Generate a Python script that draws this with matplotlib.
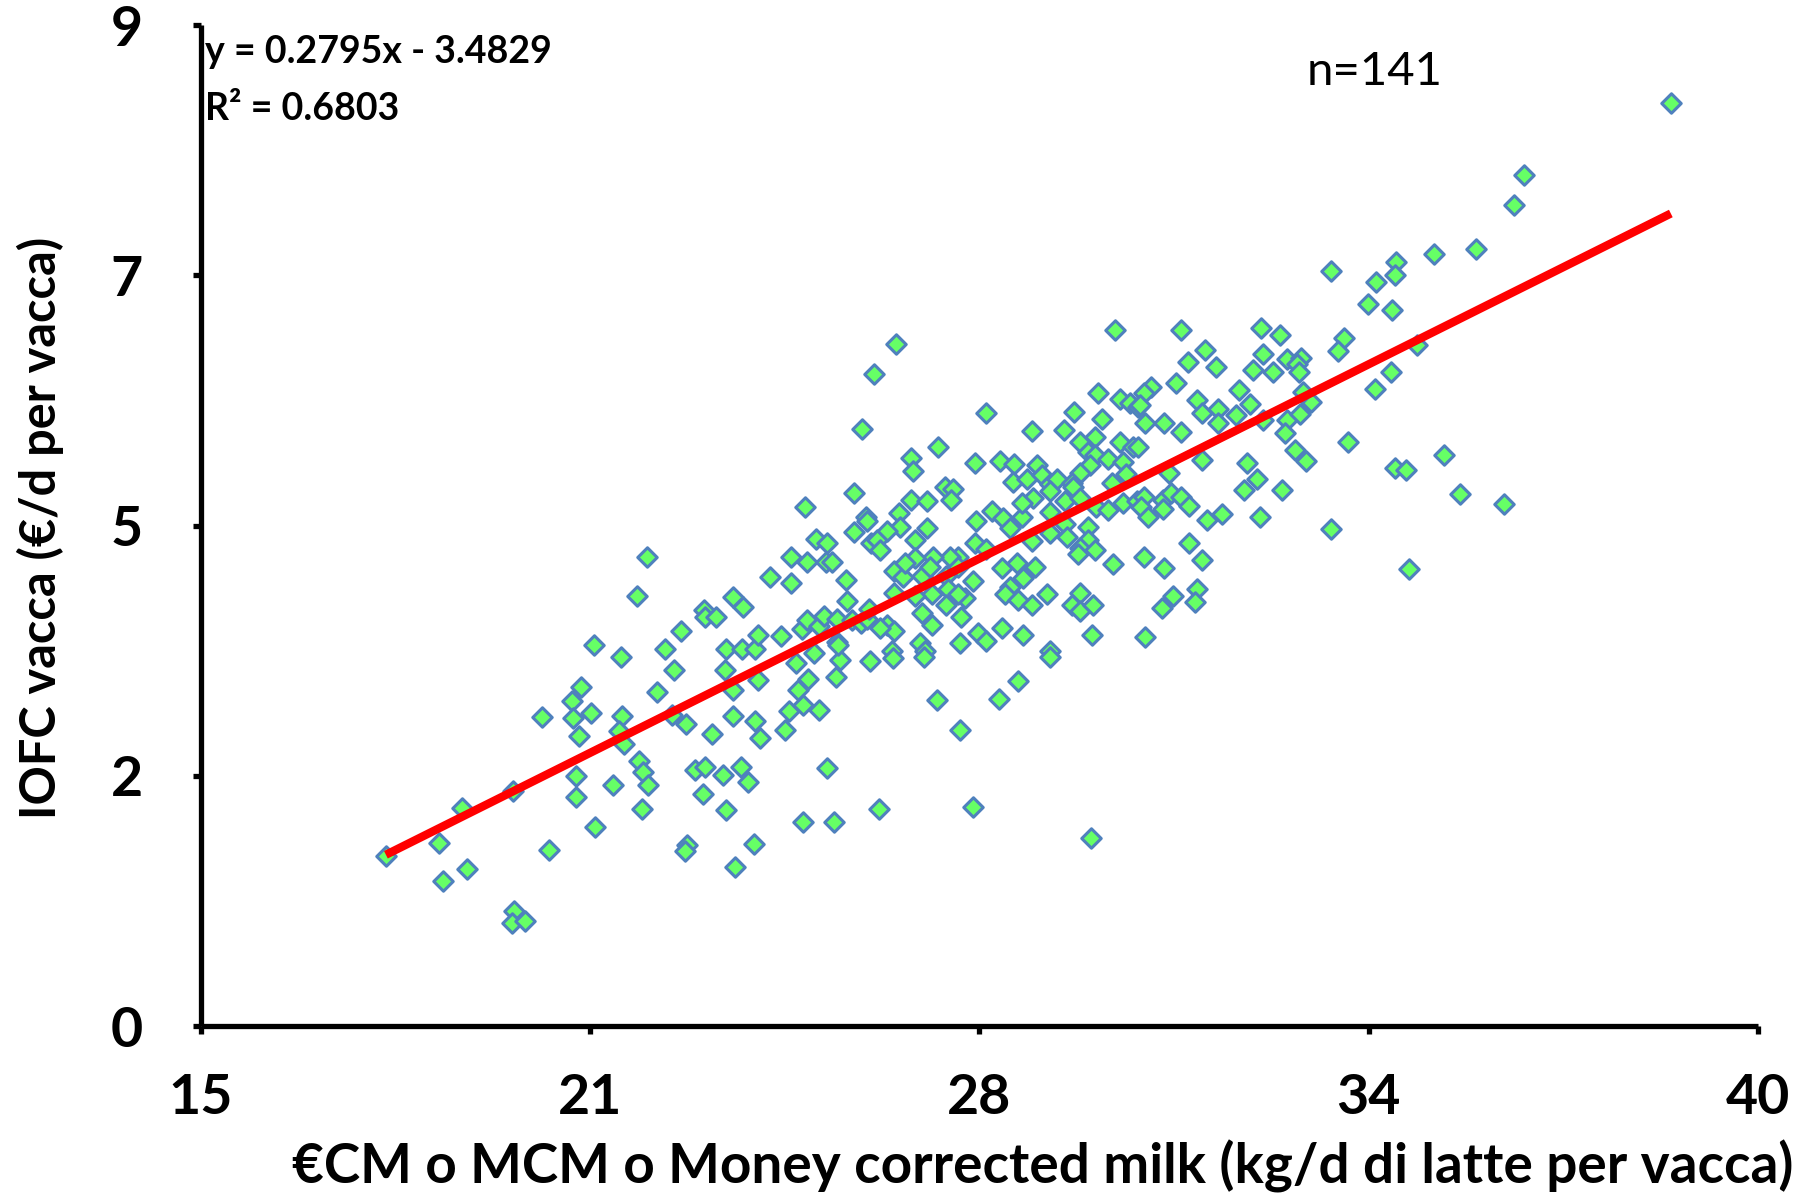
import numpy as np
import matplotlib
matplotlib.use("Agg")
import matplotlib.pyplot as plt

plt.rcParams['font.family'] = ['Lato', 'DejaVu Sans']

# ---- data ----
x_vals = [
    # lower-left group
    17.97, 18.83, 18.89, 19.27, 19.19, 20.01, 20.03, 20.00, 20.21, 20.47,
    20.59, 20.96, 21.11, 20.97, 21.27, 21.07, 21.02, 21.02, 21.33, 21.76,
    21.75, 21.31, 22.45, 22.59, 22.33, 23.41, 23.43, 23.69, 23.90, 23.94,
    23.55, 23.90, 23.54, 23.21, 23.98, 22.79, 22.57, 21.71, 21.79, 22.04,
    22.09, 22.18, 21.62, 22.08, 22.93, 23.09, 23.39, 23.67, 23.79, 23.06,
    23.43, 22.81, 22.77, 23.88, 23.57,
    # left-middle group
    22.16, 22.00, 22.70, 23.07, 23.10, 23.27, 23.54, 23.70, 23.94, 24.13,
    24.47, 24.47, 24.70, 24.73, 24.87, 25.05, 25.04, 25.14, 25.36, 25.37,
    24.31, 24.65, 24.73, 24.93, 25.00, 25.22, 25.22, 25.46, 25.59, 25.69,
    25.49, 25.68, 25.70, 25.48, 25.76, 25.73,
    # central group
    29.68, 26.16, 25.80, 25.61, 29.41, 29.76, 29.92, 30.05, 27.60, 29.01,
    28.34, 28.85, 29.47, 29.35, 29.11, 29.24, 29.35, 29.57, 29.76, 29.97,
    29.81, 29.27, 29.11, 26.84, 26.40, 26.44, 27.43, 27.83, 28.05, 28.42,
    28.04, 28.26, 28.50, 28.63, 28.74, 28.98, 26.95, 27.08, 27.05, 26.40,
    26.66, 26.20, 26.22, 26.01, 25.85, 25.91, 26.66, 26.46, 27.45, 27.70,
    27.88, 27.99, 28.18, 28.36, 28.18, 28.63, 28.87, 29.00, 29.11, 29.37,
    29.57, 29.81, 30.03, 28.87, 28.63, 28.90, 29.25, 28.34, 29.25, 29.11,
    29.35, 29.08, 29.65, 27.43, 27.61, 27.16, 27.02, 26.76, 26.46, 26.12,
    26.28, 26.57, 26.71, 26.31, 26.12, 26.73, 26.46, 26.97, 27.16, 27.27,
    27.40, 26.99, 27.16, 26.97, 27.21, 26.57, 26.73, 26.01, 26.12, 25.91,
    26.54, 26.09, 26.62, 27.19, 27.48, 27.61, 27.86, 28.20, 28.63, 29.30,
    27.86, 28.10, 28.39, 27.99, 28.20, 27.91, 28.12, 28.34, 28.58, 29.11,
    28.98, 29.11, 29.33, 28.63, 29.86, 29.62,
    # right-middle group
    30.74, 32.02, 32.32, 31.12, 30.84, 31.29, 32.05, 31.89, 32.21, 32.43,
    32.66, 32.60, 32.63, 30.66, 30.25, 30.14, 30.07, 30.15, 30.47, 30.74,
    30.05, 31.00, 31.07, 31.33, 31.33, 31.62, 31.66, 31.85, 32.06, 32.43,
    32.65, 32.82, 32.69, 32.40, 32.57, 32.74, 31.08, 30.54, 31.80, 31.96,
    31.74, 32.36, 32.00, 30.14, 30.09, 30.20, 30.45, 30.45, 30.57, 30.73,
    30.86, 31.15, 31.39, 30.87, 31.07, 30.14, 30.46, 30.61, 30.43, 31.00,
    30.96, 30.16,
    # upper-right group
    38.60, 36.25, 36.09, 35.47, 34.79, 34.18, 34.17, 33.14, 33.86, 33.74,
    34.13, 33.36, 33.25, 34.53, 34.10, 33.85, 33.41, 34.17, 34.34, 34.96,
    35.22, 35.92, 33.15, 34.40,
    # lower-middle group
    24.44, 24.38, 24.67, 24.93, 24.58, 24.74, 24.56, 24.85, 25.26, 25.19,
    25.23, 25.74, 26.11, 26.61, 28.63, 28.12, 27.82, 26.81, 27.19, 25.05,
    25.88, 27.40, 24.66, 25.16, 29.29,
]
y_vals = [
    1.53, 1.65, 1.30, 1.41, 1.96, 2.11, 1.03, 0.93, 0.94, 2.78,
    1.58, 2.92, 3.05, 2.77, 2.81, 2.61, 2.25, 2.06, 1.79, 2.79,
    3.32, 3.43, 3.39, 3.20, 3.00, 3.20, 3.39, 3.39, 3.39, 3.11,
    3.02, 2.74, 2.79, 2.63, 2.59, 2.72, 2.80, 2.65, 2.54, 2.38,
    2.28, 2.17, 2.17, 1.95, 2.30, 2.33, 2.26, 2.33, 2.19, 2.09,
    1.94, 1.63, 1.57, 1.64, 1.43,
    4.22, 3.87, 3.55, 3.74, 3.68, 3.68, 3.86, 3.77, 3.52, 4.04,
    4.22, 3.98, 4.67, 4.17, 4.38, 4.34, 4.17, 4.17, 4.01, 3.82,
    3.51, 3.57, 3.65, 3.60, 3.69, 3.66, 3.45, 3.65, 3.62, 3.66,
    4.79, 4.58, 4.54, 4.44, 4.34, 3.75,
    6.26, 6.13, 5.86, 5.37, 5.69, 5.64, 5.60, 5.57, 5.51, 5.52,
    5.35, 5.36, 5.46, 5.30, 5.25, 5.16, 5.13, 5.10, 5.25, 5.21,
    5.07, 5.04, 4.97, 5.21, 5.11, 4.99, 5.06, 5.08, 5.05, 5.04,
    4.89, 4.92, 4.95, 4.87, 4.92, 4.88, 4.85, 4.83, 4.73, 4.73,
    4.72, 4.61, 4.49, 4.45, 4.37, 4.28, 4.48, 4.37, 4.54, 4.63,
    4.57, 4.48, 4.58, 4.75, 4.70, 4.62, 4.72, 4.85, 4.75, 4.67,
    4.64, 4.70, 4.72, 4.51, 4.43, 4.40, 4.49, 4.36, 4.37, 4.30,
    4.28, 4.24, 4.15, 4.34, 4.29, 4.22, 4.22, 4.22, 4.21, 4.09,
    4.04, 4.05, 4.13, 4.16, 3.89, 3.88, 3.87, 4.05, 4.13, 3.85,
    4.00, 3.93, 3.88, 3.79, 3.68, 3.71, 3.61, 3.61, 3.55, 3.58,
    3.44, 3.37, 3.37, 3.44, 3.53, 3.46, 3.58, 3.52, 3.37, 3.52,
    4.12, 4.16, 4.13, 3.95, 4.03, 3.88, 3.83, 3.79, 3.88, 3.89,
    3.79, 3.73, 3.79, 4.81, 4.96, 4.88,
    6.26, 6.28, 6.21, 6.08, 5.97, 5.93, 6.04, 5.90, 5.88, 6.00,
    6.01, 5.95, 5.88, 5.78, 5.75, 5.69, 5.58, 5.42, 5.42, 5.34,
    5.21, 5.63, 5.51, 5.55, 5.42, 5.49, 5.72, 5.59, 5.45, 5.45,
    5.50, 5.61, 5.70, 5.33, 5.18, 5.08, 5.09, 4.97, 5.06, 4.92,
    4.82, 4.82, 4.58, 4.76, 4.67, 4.58, 4.73, 4.65, 4.79, 4.76,
    4.68, 4.55, 4.60, 4.34, 4.19, 4.22, 4.12, 3.87, 3.76, 3.93,
    3.81, 3.50,
    8.30, 7.65, 7.38, 6.99, 6.94, 6.87, 6.75, 6.79, 6.69, 6.49,
    6.44, 6.19, 6.07, 6.12, 5.88, 5.73, 5.25, 5.02, 5.00, 5.13,
    4.78, 4.69, 4.47, 4.11,
    2.83, 2.66, 2.89, 2.84, 3.02, 3.12, 3.26, 3.35, 3.29, 3.14,
    3.43, 3.28, 3.31, 3.32, 3.32, 3.10, 2.94, 2.93, 2.66, 2.32,
    1.95, 1.97, 1.83, 1.83, 1.69,
]

trend_slope = 0.2795
trend_intercept = -3.4829
r_squared = 0.6803
n_label = "n=141"

x_limits = (15, 40)
y_limits = (0, 9)
x_tick_labels = ["15", "21", "28", "34", "40"]
y_tick_labels = ["0", "2", "5", "7", "9"]

x_label = "€CM o MCM o Money corrected milk (kg/d di latte per vacca)"
y_label = "IOFC vacca (€/d per vacca)"

# ---- figure ----
fig = plt.figure(figsize=(18.02, 11.94), dpi=100)
ax = fig.add_axes([0.1115, 0.1407, 0.8641, 0.8383])

ax.scatter(x_vals, y_vals, marker='D', s=98, facecolor='#66FF66',
           edgecolor='#4F81BD', linewidths=2.2, zorder=3)

xs = np.array([min(x_vals), max(x_vals)])
ax.plot(xs, trend_slope * xs + trend_intercept, color='#FF0000', lw=6,
        solid_capstyle='butt', zorder=4)

ax.set_xlim(*x_limits)
ax.set_ylim(*y_limits)
ax.set_xticks(np.linspace(x_limits[0], x_limits[1], len(x_tick_labels)))
ax.set_yticks(np.linspace(y_limits[0], y_limits[1], len(y_tick_labels)))
ax.set_xticklabels(x_tick_labels, fontsize=40, fontweight='bold')
ax.set_yticklabels(y_tick_labels, fontsize=40, fontweight='bold')

for s in ['top', 'right']:
    ax.spines[s].set_visible(False)
for s in ['left', 'bottom']:
    ax.spines[s].set_linewidth(3.8)
    ax.spines[s].set_color('black')
    ax.spines[s].set_capstyle('butt')

ax.tick_params(axis='x', direction='out', length=6, width=3.8, pad=28)
ax.tick_params(axis='y', direction='out', length=6, width=3.8, pad=36)

fig.text(0.5785, 0.0235, x_label, fontsize=39.5, fontweight='bold',
         ha='center', va='center')
fig.text(0.0222, 0.558, y_label, fontsize=35, fontweight='bold',
         ha='center', va='center', rotation=90)

fig.text(0.1138, 0.9565, f"y = {trend_slope}x - {abs(trend_intercept)}",
         fontsize=27, fontweight='bold', ha='left', va='center')
fig.text(0.1138, 0.9087, f"R² = {r_squared}", fontsize=27,
         fontweight='bold', ha='left', va='center')
fig.text(0.763, 0.94, n_label, fontsize=34, ha='center', va='center')

fig.savefig("out.png", dpi=100)
